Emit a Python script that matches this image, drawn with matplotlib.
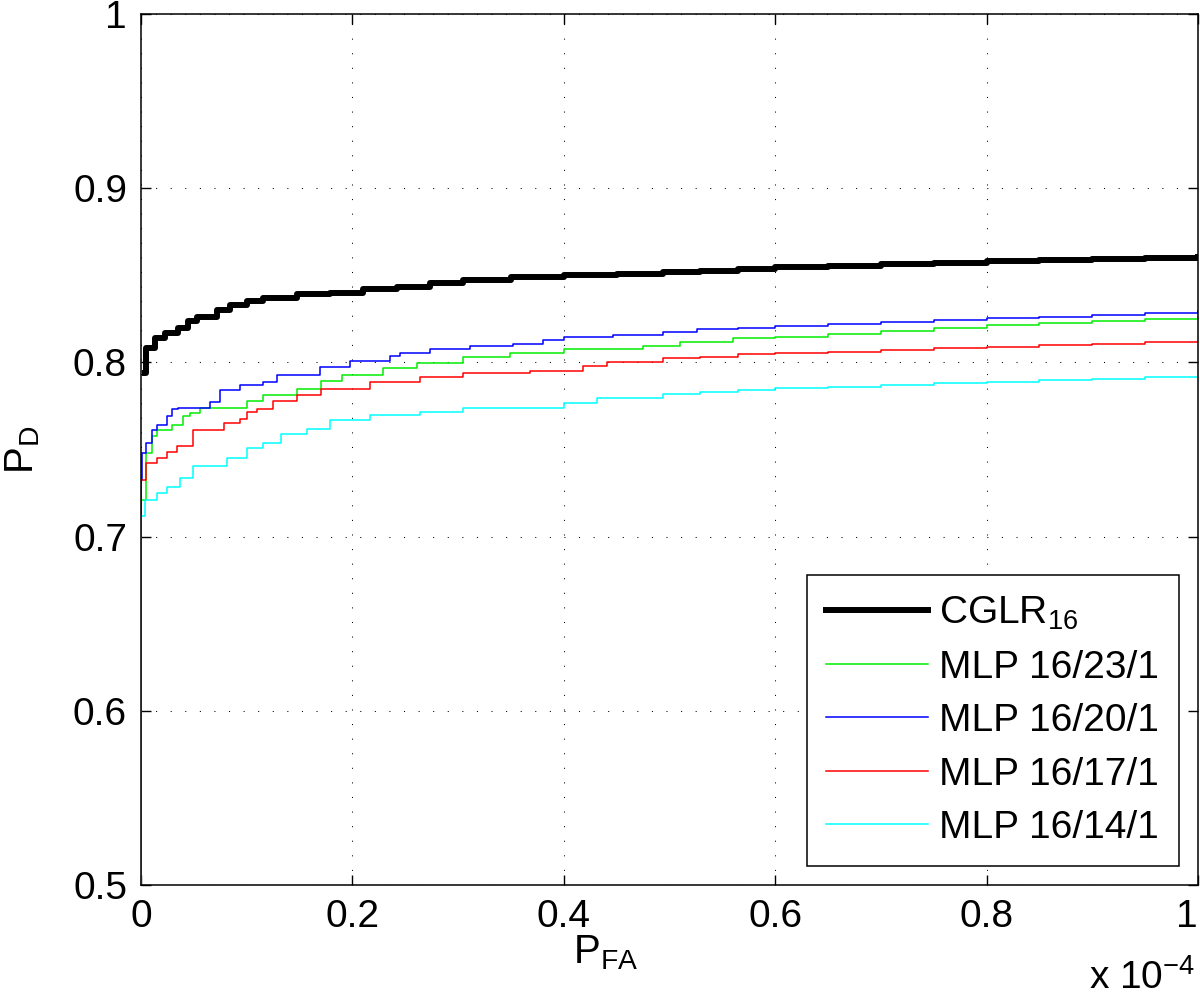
import matplotlib
matplotlib.use('Agg')
import matplotlib.pyplot as plt

plt.rcParams['font.family'] = ['Liberation Sans', 'DejaVu Sans']
plt.rcParams['mathtext.fontset'] = 'custom'
plt.rcParams['mathtext.rm'] = 'Liberation Sans'
plt.rcParams['mathtext.it'] = 'Liberation Sans:italic'
plt.rcParams['mathtext.bf'] = 'Liberation Sans:bold'

# P_FA in units of 1e-4, P_D
cglr_x = [0.004, 0.005, 0.013, 0.023, 0.035, 0.044, 0.053, 0.072, 0.084, 0.100, 0.115, 0.148,
          0.179, 0.21, 0.242, 0.273, 0.305, 0.35, 0.4, 0.45, 0.494, 0.529, 0.565, 0.6, 0.65,
          0.7, 0.75, 0.8, 0.85, 0.9, 0.95, 1.0]
cglr_y = [0.794, 0.808, 0.814, 0.817, 0.820, 0.824, 0.826, 0.830, 0.833, 0.835, 0.837, 0.839,
          0.840, 0.842, 0.8435, 0.8455, 0.8473, 0.849, 0.850, 0.851, 0.852, 0.8527, 0.8536,
          0.8546, 0.8555, 0.8565, 0.8573, 0.8582, 0.859, 0.8595, 0.860, 0.8607]

mlp23_x = [0, 0, 0.005, 0.010, 0.015, 0.029, 0.040, 0.046, 0.056, 0.100, 0.115, 0.148, 0.170,
           0.190, 0.229, 0.261, 0.305, 0.349, 0.4, 0.475, 0.510, 0.56, 0.6, 0.65, 0.7, 0.75,
           0.8, 0.85, 0.9, 0.95, 1.0]
mlp23_y = [0.5, 0.721, 0.748, 0.758, 0.761, 0.764, 0.769, 0.771, 0.774, 0.778, 0.781, 0.785,
           0.7894, 0.7928, 0.7966, 0.7998, 0.8029, 0.8056, 0.8075, 0.8094, 0.8119, 0.8138,
           0.8148, 0.8165, 0.8181, 0.8197, 0.8212, 0.8224, 0.8235, 0.8247, 0.8258]

mlp20_x = [0, 0, 0.001, 0.005, 0.010, 0.015, 0.025, 0.029, 0.035, 0.065, 0.075, 0.094, 0.115,
           0.129, 0.169, 0.198, 0.236, 0.245, 0.273, 0.311, 0.352, 0.38, 0.4, 0.447, 0.494,
           0.526, 0.565, 0.6, 0.65, 0.7, 0.75, 0.8, 0.85, 0.9, 0.95, 1.0]
mlp20_y = [0.5, 0.7325, 0.748, 0.754, 0.761, 0.764, 0.769, 0.773, 0.774, 0.777, 0.784, 0.787,
           0.789, 0.793, 0.7976, 0.801, 0.8037, 0.8056, 0.8075, 0.8094, 0.8106, 0.8129, 0.8144,
           0.8157, 0.8172, 0.8189, 0.8195, 0.8209, 0.822, 0.8232, 0.8242, 0.8253, 0.8262,
           0.8272, 0.8282, 0.8293]

mlp17_x = [0, 0, 0.005, 0.015, 0.025, 0.034, 0.049, 0.079, 0.094, 0.100, 0.110, 0.125, 0.148,
           0.170, 0.217, 0.264, 0.305, 0.368, 0.418, 0.441, 0.494, 0.529, 0.565, 0.6, 0.65,
           0.7, 0.75, 0.8, 0.85, 0.9, 0.95, 1.0]
mlp17_y = [0.5, 0.7325, 0.742, 0.745, 0.7486, 0.752, 0.761, 0.765, 0.7675, 0.7715, 0.773, 0.778,
           0.781, 0.7847, 0.7889, 0.7918, 0.7937, 0.7952, 0.7979, 0.8002, 0.8023, 0.8033,
           0.8046, 0.8052, 0.8062, 0.8071, 0.808, 0.809, 0.8098, 0.8107, 0.8116, 0.8125]

mlp14_x = [0, 0, 0.004, 0.015, 0.025, 0.037, 0.049, 0.081, 0.100, 0.115, 0.132, 0.157, 0.179,
           0.217, 0.264, 0.305, 0.4, 0.431, 0.494, 0.529, 0.565, 0.6, 0.65, 0.7, 0.75, 0.8,
           0.85, 0.9, 0.95, 1.0]
mlp14_y = [0.5, 0.712, 0.721, 0.725, 0.7285, 0.7336, 0.7405, 0.745, 0.751, 0.754, 0.759, 0.762,
           0.7669, 0.7698, 0.7717, 0.7736, 0.7765, 0.7793, 0.7818, 0.7832, 0.7841, 0.7851,
           0.786, 0.787, 0.788, 0.7889, 0.7897, 0.7906, 0.7915, 0.7924]

labels = ['CGLR$_{16}$', 'MLP 16/23/1', 'MLP 16/20/1', 'MLP 16/17/1', 'MLP 16/14/1']
x_ticks = [0, 0.2, 0.4, 0.6, 0.8, 1]
y_ticks = [0.5, 0.6, 0.7, 0.8, 0.9, 1]

fig = plt.figure(figsize=(12, 10.01), dpi=100)
ax = fig.add_axes([0.1175, 0.1159, 0.8808, 0.8701])

ax.plot(cglr_x, cglr_y, color='black', lw=4.3, drawstyle='steps-post', label=labels[0])
ax.plot(mlp23_x, mlp23_y, color='#00ee00', lw=1.1, drawstyle='steps-post', label=labels[1])
ax.plot(mlp20_x, mlp20_y, color='#0000ff', lw=1.1, drawstyle='steps-post', label=labels[2])
ax.plot(mlp17_x, mlp17_y, color='#ff0000', lw=1.1, drawstyle='steps-post', label=labels[3])
ax.plot(mlp14_x, mlp14_y, color='#00ffff', lw=1.1, drawstyle='steps-post', label=labels[4])

ax.set_xlim(0, 1)
ax.set_ylim(0.5, 1)
ax.set_xticks(x_ticks)
ax.set_xticklabels(['%g' % t for t in x_ticks])
ax.set_yticks(y_ticks)
ax.set_yticklabels(['%g' % t for t in y_ticks])
ax.get_xticklabels()[-1].set_ha('right')
ax.tick_params(direction='in', length=7, width=1, labelsize=28, top=True, right=True, pad=10)
ax.grid(True, color='black', linestyle=(0, (1, 13)), linewidth=0.75)
for s in ax.spines.values():
    s.set_linewidth(1.1)

ax.set_xlabel('P$_{\\mathrm{FA}}$', fontsize=29)
ax.xaxis.set_label_coords(0.44, -0.056)
ax.xaxis.label.set_va('top')
ax.set_ylabel('P$_{\\mathrm{D}}$', fontsize=29)
ax.yaxis.set_label_coords(-0.094, 0.5)

fig.text(0.996, 0.004, 'x 10$^{-4}$', fontsize=28, ha='right', va='bottom')

leg = ax.legend(loc='lower right', fontsize=28, frameon=True, fancybox=False,
                edgecolor='black', framealpha=1, handlelength=2.6, labelspacing=0.45,
                borderaxespad=0.5, handletextpad=0.3, borderpad=0.5)
leg.get_frame().set_linewidth(1.1)

fig.savefig('out.png', dpi=100)
